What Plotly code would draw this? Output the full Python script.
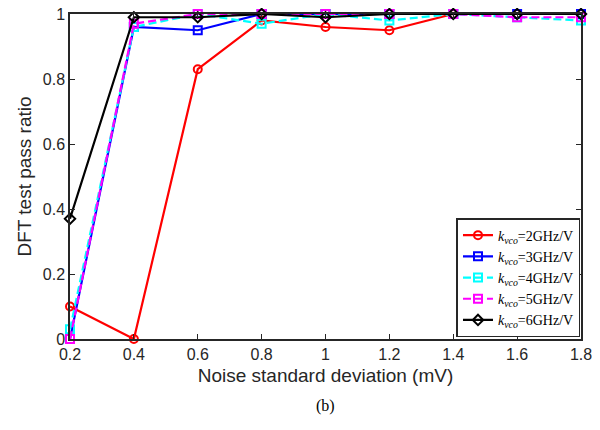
import plotly.graph_objects as go

x_vals = [0.2, 0.4, 0.6, 0.8, 1.0, 1.2, 1.4, 1.6, 1.8]
k2 = [0.10, 0.00, 0.83, 0.98, 0.96, 0.95, 1.00, 1.00, 1.00]
k3 = [0.00, 0.96, 0.95, 1.00, 1.00, 1.00, 1.00, 1.00, 1.00]
k4 = [0.03, 0.96, 1.00, 0.97, 1.00, 0.98, 1.00, 0.99, 0.98]
k5 = [0.00, 0.97, 1.00, 1.00, 1.00, 1.00, 1.00, 0.99, 0.99]
k6 = [0.37, 0.99, 0.99, 1.00, 0.99, 1.00, 1.00, 1.00, 1.00]
labels = ["2GHz/V", "3GHz/V", "4GHz/V", "5GHz/V", "6GHz/V"]
x_ticks = [0.2, 0.4, 0.6, 0.8, 1, 1.2, 1.4, 1.6, 1.8]
x_tick_text = ["0.2", "0.4", "0.6", "0.8", "1", "1.2", "1.4", "1.6", "1.8"]
y_ticks = [0, 0.2, 0.4, 0.6, 0.8, 1]
y_tick_text = ["0", "0.2", "0.4", "0.6", "0.8", "1"]

series = [
    (k2, "#ff0000", "solid", "circle-open"),
    (k3, "#0000ff", "solid", "square-open"),
    (k4, "#00ffff", "8px,4px", "square-open"),
    (k5, "#ff00ff", "8px,4px", "square-open"),
    (k6, "#000000", "solid", "diamond-open"),
]

fig = go.Figure()
for (ys, col, dash, sym), lab in zip(series, labels):
    fig.add_trace(go.Scatter(
        x=x_vals, y=ys, mode="lines+markers",
        name="<i>k</i><sub><i>vco</i></sub>=" + lab,
        line=dict(color=col, width=2.2, dash=dash),
        marker=dict(symbol=sym, size=8, color=col, line=dict(width=2, color=col)),
        cliponaxis=False,
    ))

axis_common = dict(
    showline=True, linecolor="#262626", linewidth=1.5, mirror="allticks",
    ticks="inside", ticklen=5, tickcolor="#262626", tickwidth=1.2,
    showgrid=False, zeroline=False, automargin=False, ticklabeloverflow="allow",
    tickfont=dict(family="Liberation Sans", size=16, color="#262626"),
)

fig.update_layout(
    width=600, height=430,
    margin=dict(l=62, r=27, t=6, b=99),
    paper_bgcolor="white", plot_bgcolor="white",
    xaxis=dict(range=[0.2, 1.8], tickvals=x_ticks, ticktext=x_tick_text,
               title=dict(text="Noise standard deviation (mV)", standoff=7,
                          font=dict(family="Liberation Sans", size=19, color="#262626")),
               **axis_common),
    yaxis=dict(range=[0, 1], tickvals=y_ticks, ticktext=y_tick_text,
               title=dict(text="DFT test pass ratio", standoff=6,
                          font=dict(family="Liberation Sans", size=19, color="#262626")),
               **axis_common),
    legend=dict(x=0.999, y=0.006, xanchor="right", yanchor="bottom",
                bgcolor="white", bordercolor="#262626", borderwidth=1.5,
                font=dict(family="Liberation Serif", size=14, color="black"),
                tracegroupgap=0, itemwidth=30),
    showlegend=True,
    annotations=[dict(text="(b)", x=0.5, y=-0.172, xref="paper", yref="paper",
                      xanchor="center", yanchor="top", showarrow=False,
                      font=dict(family="Liberation Serif", size=16, color="black"))],
)

fig.write_html("out.html")
